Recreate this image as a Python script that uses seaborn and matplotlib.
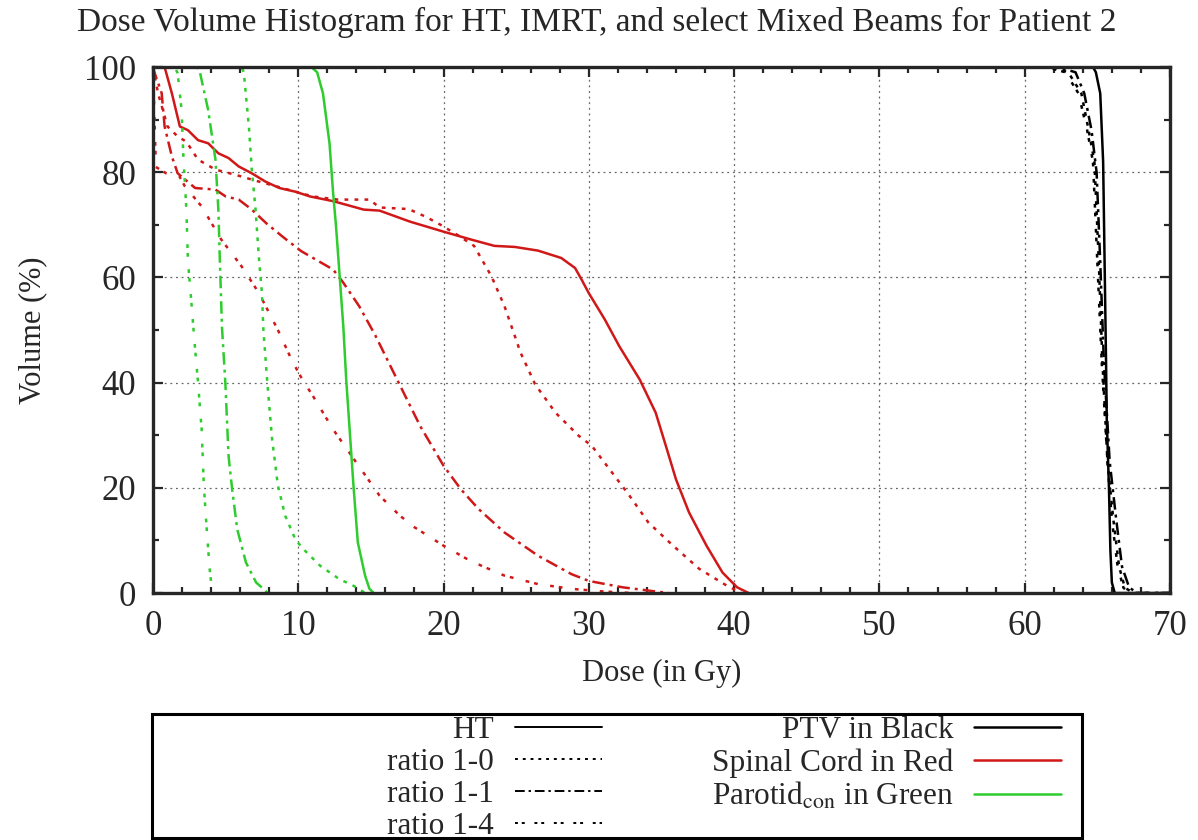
import numpy as np
import pandas as pd
import matplotlib
matplotlib.use('Agg')
import matplotlib.pyplot as plt
from matplotlib.lines import Line2D
from matplotlib.patches import Rectangle
from matplotlib.ticker import MultipleLocator
import seaborn as sns

# ---- data (dose in Gy, volume in %) ----
plans = ['HT', 'ratio 1-0', 'ratio 1-1', 'ratio 1-4']
structures = ['PTV', 'Spinal Cord', 'Parotid']

# PTV (black)
ptv_ht_dose = [0, 64.7, 64.9, 65.2, 65.4, 65.5, 65.6, 65.65, 65.8, 65.9, 66.0, 66.2, 70]
ptv_ht_vol = [100, 100, 99, 95, 82, 63, 44, 33, 20, 8, 2, 0, 0]
ptv_r10_dose = [0, 61.8, 63.0, 63.9, 64.4, 64.8, 65.1, 65.35, 65.7, 66.1, 66.5, 66.9, 67.5, 70]
ptv_r10_vol = [100, 100, 99, 95, 88, 82, 63, 44, 25, 14, 5, 1, 0, 0]
ptv_r11_dose = [0, 62.3, 63.5, 64.1, 64.6, 64.95, 65.2, 65.45, 65.85, 66.3, 66.7, 67.2, 67.8, 70]
ptv_r11_vol = [100, 100, 99, 95, 88, 80, 63, 44, 25, 14, 5, 1, 0, 0]
ptv_r14_dose = [0, 61.5, 62.8, 63.7, 64.3, 64.7, 65.0, 65.3, 65.7, 66.0, 66.4, 66.8, 67.2, 70]
ptv_r14_vol = [100, 100, 99, 95, 88, 82, 63, 44, 25, 14, 5, 1, 0, 0]

# Spinal cord (red)
cord_ht_dose = [0, 0.8, 1.3, 1.85, 2.4, 3.1, 3.8, 4.5, 5.2, 5.9, 6.8, 7.75, 8.7, 9.8,
                10.8, 12.4, 14.5, 15.6, 17.7, 20.0, 21.9, 23.5, 24.9, 26.5, 28.1, 29.05,
                29.5, 30.0, 31.1, 32.1, 33.5, 34.6, 35.3, 36.0, 36.9, 38.1, 39.2, 40.2, 41.0]
cord_ht_vol = [100, 100, 95, 88.7, 88, 86.1, 85.5, 83.6, 82.7, 81.1, 79.8, 78.2, 77, 76.3,
               75.4, 74.5, 72.9, 72.7, 70.6, 68.7, 67.2, 66, 65.8, 65.1, 63.7, 61.8,
               59.6, 57, 52, 46.9, 40.6, 34.3, 28, 21.6, 15.3, 9, 3.9, 1.1, 0]
cord_r10_dose = [0, 0.35, 1.0, 1.7, 2.3, 3.1, 4.3, 5.7, 6.8, 8.9, 9.8, 11, 12.7, 14.9, 15.6,
                 17.6, 18.8, 19.8, 21, 22.1, 23.3, 24.2, 25.3, 26.3, 27.7, 29.3, 30.2,
                 31.6, 32.8, 34.1, 35.8, 37.6, 39.5, 40.5]
cord_r10_vol = [100, 95, 88.7, 86.8, 85.8, 82.4, 80.5, 79.5, 78.6, 77, 76.3, 75.4, 74.8, 74.8, 73.3,
                73, 71.5, 70, 68, 66, 60.2, 54.5, 45.7, 39.7, 34.3, 29.9, 28,
                22.9, 18.5, 13.4, 9, 4.6, 1.4, 0]
cord_r11_dose = [0, 0.1, 0.6, 0.8, 1.3, 1.7, 2.9, 4.3, 5.0, 5.9, 6.8, 7.8, 8.9, 10.2, 12.4,
                 13.1, 14.2, 15.3, 16.8, 18.4, 20.0, 21.2, 22.4, 24.2, 26.5, 28.8, 30,
                 32.3, 34.6, 35.5]
cord_r11_vol = [100, 99, 95, 88.7, 83, 79.8, 77, 76.7, 75.4, 74.8, 72.9, 70.3, 67.8, 65, 61.5,
                59, 54.5, 49, 40.6, 31.7, 24.2, 19.7, 16, 11.5, 7.1, 3.6, 2.3,
                1.1, 0.3, 0]
cord_r14_dose = [0, 0.2, 0.9, 1.8, 2.2, 3.35, 4.7, 6.1, 7.3, 8.6, 9.6, 10.3, 11, 12.4, 14,
                 15.6, 17, 18, 20, 21.6, 22.6, 24.2, 26.5, 28.8, 31, 33]
cord_r14_vol = [100, 81, 79.8, 79.3, 77.3, 73.5, 67.2, 62.1, 57, 50, 44, 40.5, 37.5, 31.1, 24.8,
                18.5, 14.7, 12.5, 9, 6.5, 5.2, 3.3, 1.7, 0.8, 0.3, 0]

# Contralateral parotid (green)
par_ht_dose = [0, 10.9, 11.3, 11.7, 12.15, 12.4, 12.6, 12.85, 13.1, 13.3, 13.8, 14.1, 14.6, 14.9, 15.2]
par_ht_vol = [100, 100, 99, 95, 85.5, 76, 69.7, 60.2, 50.7, 40.6, 20.4, 9.6, 3.3, 0.8, 0]
par_r10_dose = [0, 6.1, 6.25, 6.6, 6.8, 7.06, 7.3, 7.5, 7.6, 7.87, 8.2, 8.6, 9.1, 9.8, 10.3,
                11.5, 12.8, 14, 14.6]
par_r10_vol = [100, 100, 99, 88.7, 80.5, 72.9, 63.4, 57, 50, 40, 29.2, 20.4, 14.7, 10.2, 8.5,
               5.2, 2.7, 1.1, 0]
par_r11_dose = [0, 3.0, 3.2, 3.8, 4.3, 4.5, 4.6, 4.75, 4.98, 5.2, 5.45, 5.8, 6.4, 7.1, 7.6, 7.9]
par_r11_vol = [100, 100, 99.4, 91.8, 82.4, 72.9, 63.4, 50.5, 40, 26.1, 19.7, 12.1, 5.8, 2, 0.8, 0]
par_r14_dose = [0, 1.5, 1.7, 1.97, 2.1, 2.3, 2.4, 2.65, 2.85, 3.1, 3.35, 3.5, 3.7, 3.9, 4.05, 4.2]
par_r14_vol = [100, 100, 98.8, 91.8, 82.4, 72.9, 63.4, 55, 48, 40, 31.1, 20.4, 12.1, 4.6, 0.8, 0]

title = 'Dose Volume Histogram for HT, IMRT, and select Mixed Beams for Patient 2'
structure_labels = ['PTV in Black', 'Spinal Cord in Red', r'Parotid$_{\mathrm{con}}$ in Green']

curves = {
    ('PTV', 'HT'): (ptv_ht_dose, ptv_ht_vol),
    ('PTV', 'ratio 1-0'): (ptv_r10_dose, ptv_r10_vol),
    ('PTV', 'ratio 1-1'): (ptv_r11_dose, ptv_r11_vol),
    ('PTV', 'ratio 1-4'): (ptv_r14_dose, ptv_r14_vol),
    ('Spinal Cord', 'HT'): (cord_ht_dose, cord_ht_vol),
    ('Spinal Cord', 'ratio 1-0'): (cord_r10_dose, cord_r10_vol),
    ('Spinal Cord', 'ratio 1-1'): (cord_r11_dose, cord_r11_vol),
    ('Spinal Cord', 'ratio 1-4'): (cord_r14_dose, cord_r14_vol),
    ('Parotid', 'HT'): (par_ht_dose, par_ht_vol),
    ('Parotid', 'ratio 1-0'): (par_r10_dose, par_r10_vol),
    ('Parotid', 'ratio 1-1'): (par_r11_dose, par_r11_vol),
    ('Parotid', 'ratio 1-4'): (par_r14_dose, par_r14_vol),
}

rows = []
for (s, p), (d, v) in curves.items():
    for di, vi in zip(d, v):
        rows.append({'dose': di, 'volume': vi, 'structure': s, 'plan': p, 'curve': s + p})
df = pd.DataFrame(rows)

# ---- style ----
sns.set_style('ticks')
plt.rcParams['font.family'] = ['Liberation Serif', 'DejaVu Serif']
plt.rcParams['mathtext.fontset'] = 'stix'

palette = {'PTV': '#000000', 'Spinal Cord': '#d01818', 'Parotid': '#2ecc2e'}
dashes = {'HT': '', 'ratio 1-0': (1.5, 2.5), 'ratio 1-1': (5, 2, 1.2, 2),
          'ratio 1-4': (1.5, 2, 1.5, 5)}

fig = plt.figure(figsize=(11.98, 8.4), dpi=100)
ax = fig.add_axes([0.1277, 0.2940, 0.8489, 0.6262])

sns.lineplot(data=df, x='dose', y='volume', hue='structure', style='plan',
             units='curve', estimator=None, sort=False,
             palette=palette, dashes=dashes, linewidth=1.8, legend=False, ax=ax)

ax.set_xlim(0, 70)
ax.set_ylim(0, 100)
ax.xaxis.set_major_locator(MultipleLocator(10))
ax.xaxis.set_minor_locator(MultipleLocator(2))
ax.yaxis.set_major_locator(MultipleLocator(20))
ax.yaxis.set_minor_locator(MultipleLocator(10))
ax.grid(True, which='major', linestyle=(0, (1.5, 3)), color='#666666', linewidth=0.9)
ax.set_axisbelow(True)

ax.tick_params(which='both', direction='in', top=True, right=True, width=1.6)
ax.tick_params(which='major', length=7.5, labelsize=25)
ax.tick_params(axis='x', which='major', pad=12)
ax.tick_params(axis='y', which='major', pad=12)
ax.tick_params(which='minor', length=4)
for sp in ax.spines.values():
    sp.set_linewidth(2.4)
    sp.set_visible(True)

ax.set_xlabel('Dose (in Gy)', fontsize=22)
ax.set_ylabel('Volume (%)', fontsize=22)
ax.xaxis.set_label_coords(0.5, -0.126)
ax.yaxis.set_label_coords(-0.104, 0.5)
fig.text(0.498, 1 - 22 / 840, title, fontsize=24, ha='center', va='center')

# ---- gnuplot-style key below the plot ----
fig.patches.append(Rectangle((0.1269, 0.0024), 0.7763, 0.1476, transform=fig.transFigure,
                             fill=False, edgecolor='black', linewidth=2.2, zorder=5))

plan_handles = [Line2D([], [], color='black', linewidth=1.4,
                       linestyle=('-' if dashes[p] == '' else (0, dashes[p]))) for p in plans]
struct_handles = [Line2D([], [], color=palette[s], linewidth=1.8) for s in structures]

leg_kw = dict(loc='upper right', frameon=False, markerfirst=False, fontsize=22.5,
              handlelength=2.8, handletextpad=0.65, labelspacing=0.1,
              borderpad=0, borderaxespad=0)
leg1 = fig.legend(plan_handles, plans, bbox_to_anchor=(602 / 1198, 1 - 716 / 840), **leg_kw)
leg2 = fig.legend(struct_handles, structure_labels,
                  bbox_to_anchor=(1061 / 1198, 1 - 716 / 840), **leg_kw)

fig.savefig('out.png', dpi=100)
